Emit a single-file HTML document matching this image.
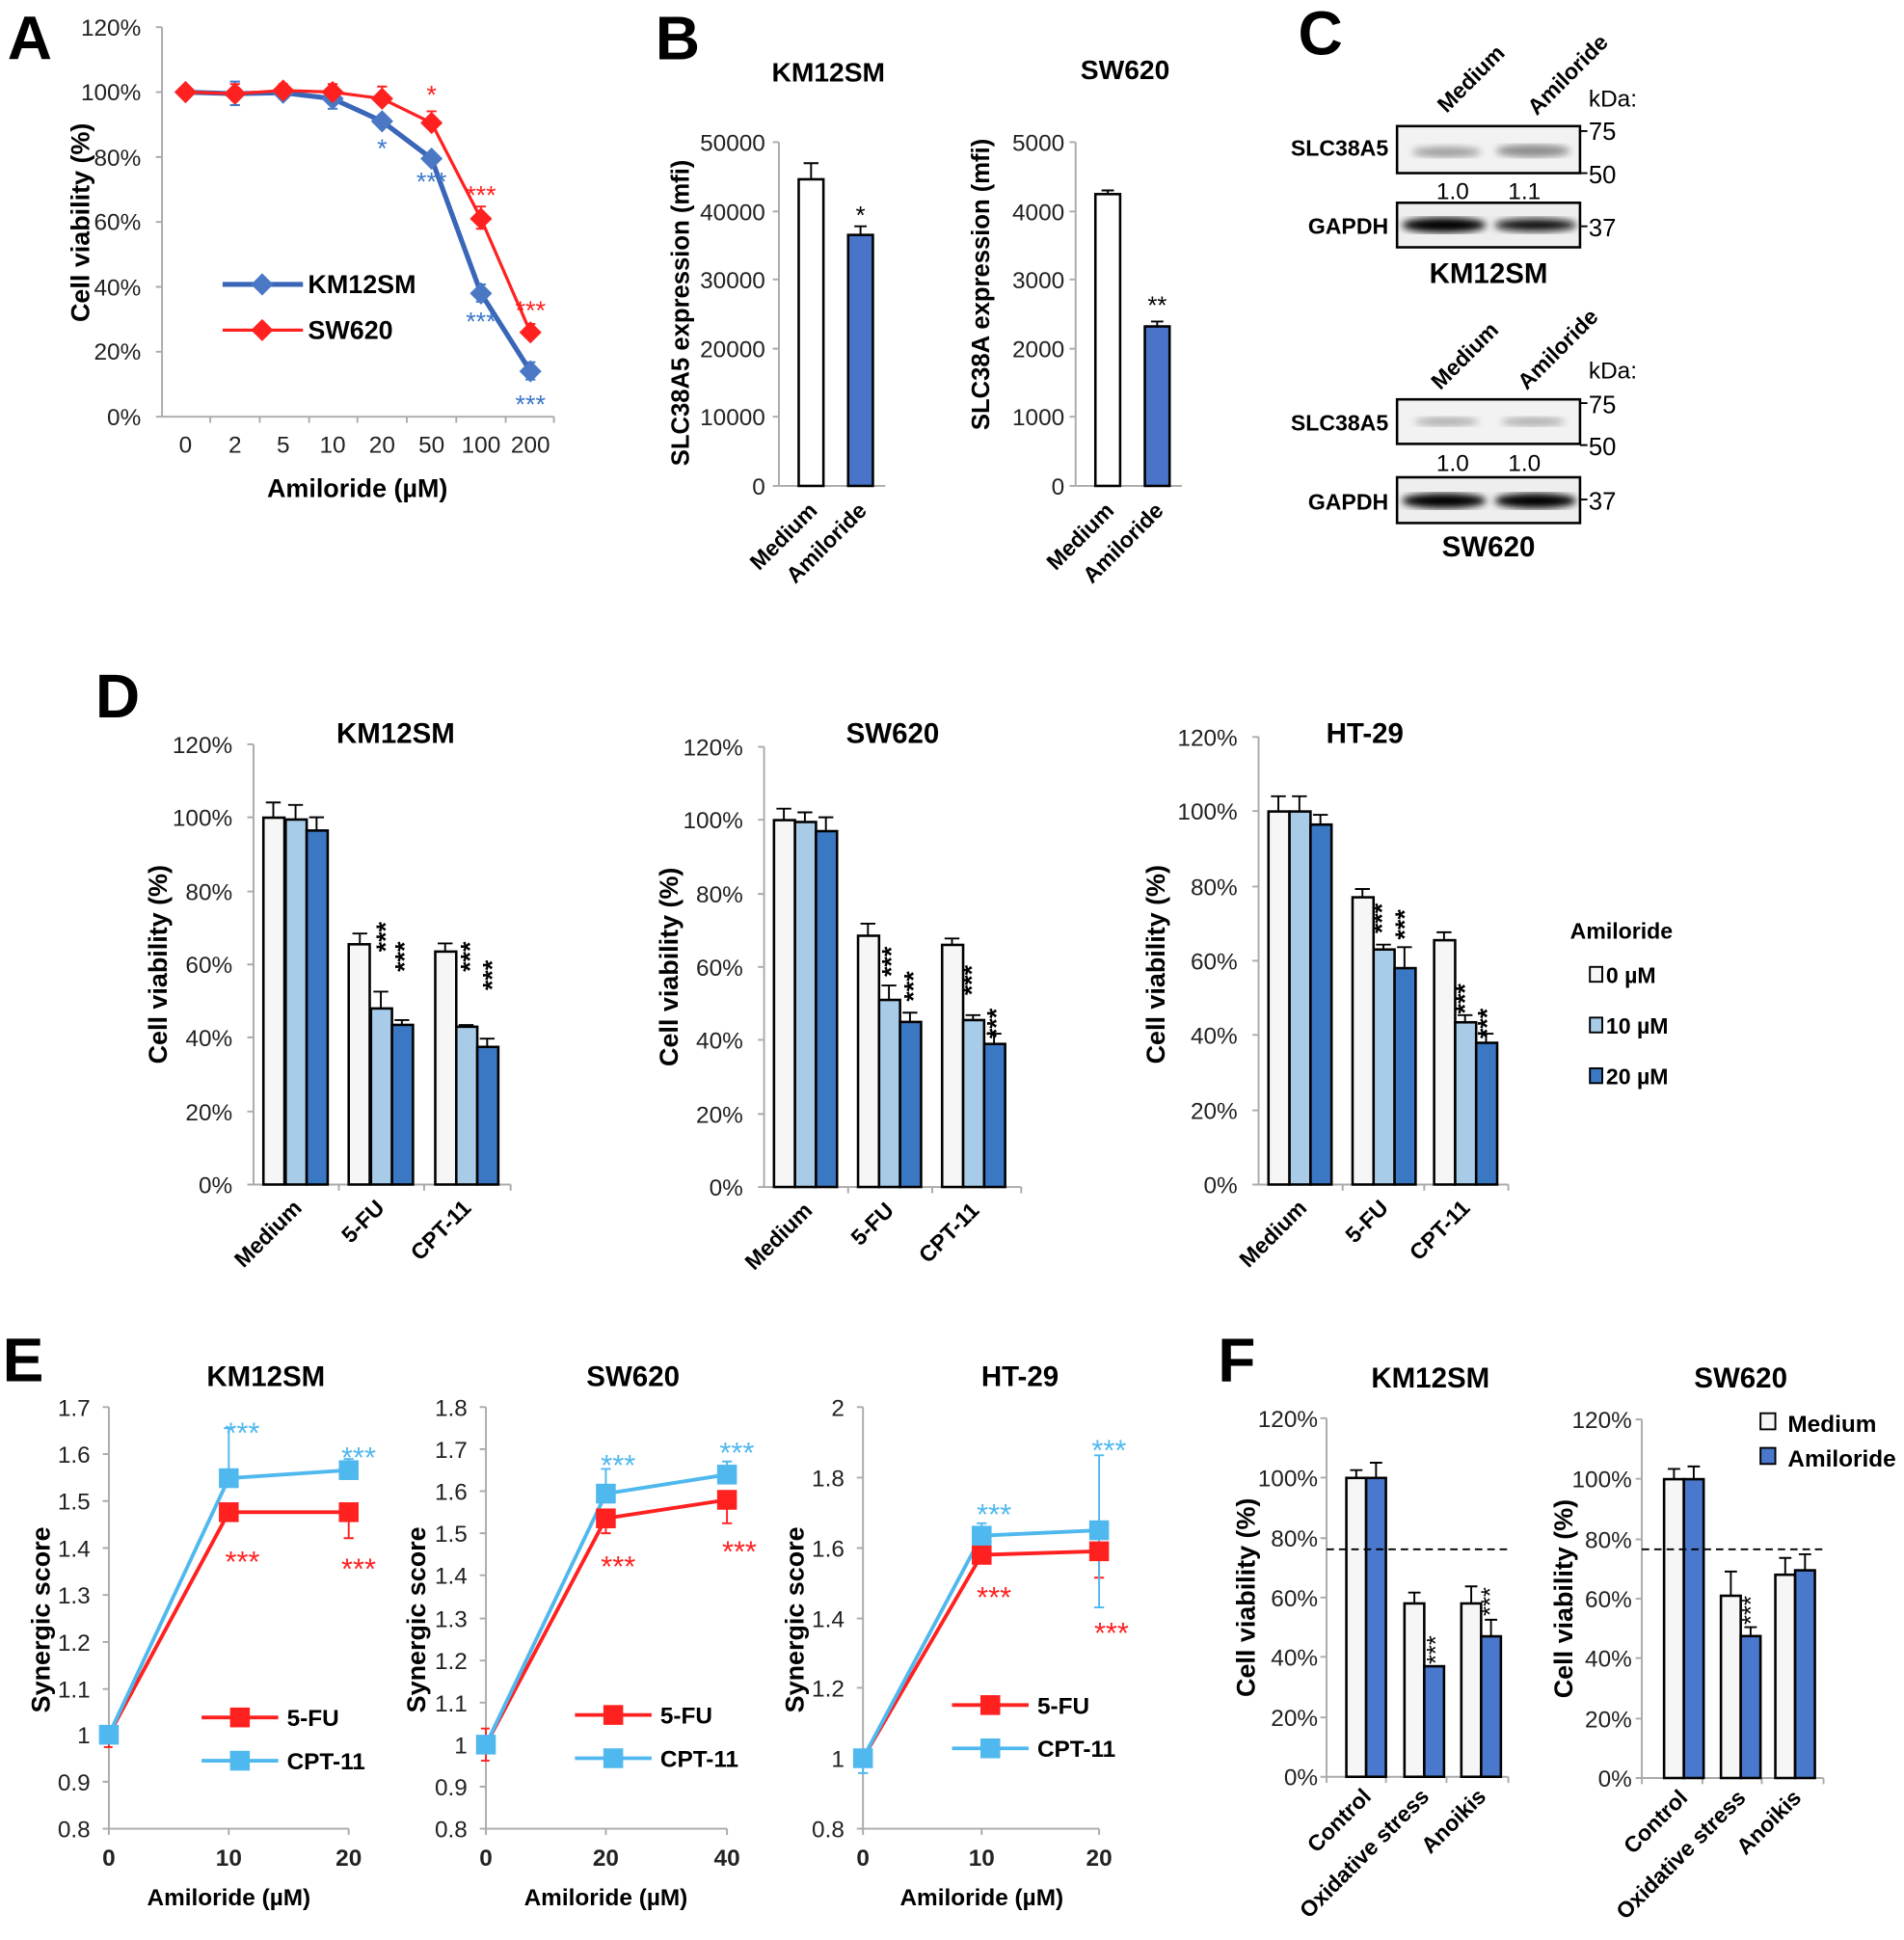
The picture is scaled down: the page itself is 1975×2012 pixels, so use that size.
<!DOCTYPE html>
<html><head><meta charset="utf-8"><style>
html,body{margin:0;padding:0;background:#fff}
svg{display:block}
text{font-family:"Liberation Sans",Arial,sans-serif}
.t{font-size:19px;fill:#222}
.b{font-weight:bold}
.ax{stroke:#aaa;stroke-width:1.5;fill:none}
.bar{stroke:#000;stroke-width:2}
.eb{stroke:#000;stroke-width:1.5;fill:none}
</style></head><body>
<svg width="1975" height="2012" viewBox="0 0 1540 1569" xmlns="http://www.w3.org/2000/svg">
<defs>
<path id="dm" d="M0,-9 L9,0 L0,9 L-9,0Z"/>
<rect id="sq" x="-8" y="-8" width="16" height="16"/>
<filter id="bl"><feGaussianBlur stdDeviation="3"/></filter>
</defs>
<g font-weight="bold" font-size="50" fill="#000">
<text x="6" y="48">A</text><text x="530" y="48">B</text><text x="1050" y="44">C</text>
<text x="77" y="580">D</text><text x="2" y="1117">E</text><text x="985" y="1117">F</text>
</g>

<!-- ===== Panel A ===== -->
<g>
<path class="ax" d="M131,22V337H448 M126,22h5 M126,74.5h5 M126,127h5 M126,179.5h5 M126,232h5 M126,284.5h5 M126,337h5 M170,337v5 M210,337v5 M250,337v5 M289,337v5 M329,337v5 M369,337v5 M409,337v5 M448,337v5"/>
<g class="t" text-anchor="end"><text x="114" y="29">120%</text><text x="114" y="81">100%</text><text x="114" y="134">80%</text><text x="114" y="186">60%</text><text x="114" y="239">40%</text><text x="114" y="291">20%</text><text x="114" y="344">0%</text></g>
<g class="t" text-anchor="middle"><text x="150" y="366">0</text><text x="190" y="366">2</text><text x="229" y="366">5</text><text x="269" y="366">10</text><text x="309" y="366">20</text><text x="349" y="366">50</text><text x="389" y="366">100</text><text x="429" y="366">200</text></g>
<text x="289" y="402" text-anchor="middle" font-size="21" class="b">Amiloride (µM)</text>
<text transform="translate(72,180) rotate(-90)" text-anchor="middle" font-size="21" class="b">Cell viability (%)</text>
<g stroke="#3c78c8" stroke-width="1.5"><path d="M190,66v19M186,66h8M186,85h8 M269,72v16M265,88h8 M309,91v14 M349,122v13 M389,230v14M385,230h8M385,244h8 M429,293v14M425,293h8M425,307h8"/></g>
<polyline fill="none" stroke="#3a66b8" stroke-width="4" points="150,74.5 190,75.8 229,75 269,79.8 309,98.1 349,128.3 389,237.3 429,300.3"/>
<g fill="#4a78c4"><use href="#dm" x="150" y="74.5"/><use href="#dm" x="190" y="75.8"/><use href="#dm" x="229" y="75"/><use href="#dm" x="269" y="79.8"/><use href="#dm" x="309" y="98.1"/><use href="#dm" x="349" y="128.3"/><use href="#dm" x="389" y="237.3"/><use href="#dm" x="429" y="300.3"/></g>
<g stroke="#ff2020" stroke-width="1.5"><path d="M190,68v16M186,68h8 M229,68v11M225,68h8 M269,68v13M265,68h8 M309,70v18M305,70h8 M349,90v18M345,90h8 M389,167v18M385,167h8M385,185h8 M429,262v14M425,262h8"/></g>
<polyline fill="none" stroke="#ff2020" stroke-width="2.5" points="150,74.5 190,75.8 229,73.2 269,74.5 309,79.8 349,99.4 389,176.9 429,268.8"/>
<g fill="#ff2020"><use href="#dm" x="150" y="74.5"/><use href="#dm" x="190" y="75.8"/><use href="#dm" x="229" y="73.2"/><use href="#dm" x="269" y="74.5"/><use href="#dm" x="309" y="79.8"/><use href="#dm" x="349" y="99.4"/><use href="#dm" x="389" y="176.9"/><use href="#dm" x="429" y="268.8"/></g>
<g fill="#3c78c8" font-size="21" text-anchor="middle"><text x="309" y="127">*</text><text x="349" y="154">***</text><text x="389" y="267">***</text><text x="429" y="334">***</text></g>
<g fill="#ff2020" font-size="21" text-anchor="middle"><text x="349" y="84">*</text><text x="389" y="165">***</text><text x="429" y="258">***</text></g>
<path d="M180,230H245" stroke="#3a66b8" stroke-width="4"/><use href="#dm" x="212" y="230" fill="#4a78c4"/>
<path d="M180,267H245" stroke="#ff2020" stroke-width="2.5"/><use href="#dm" x="212" y="267" fill="#ff2020"/>
<text x="249" y="237" font-size="21" class="b">KM12SM</text><text x="249" y="274" font-size="21" class="b">SW620</text>
</g>

<!-- ===== Panel B ===== -->
<g>
<text x="670" y="66" text-anchor="middle" font-size="22" class="b">KM12SM</text>
<path class="ax" d="M630,115V393H716 M625,115h5M625,171h5M625,226h5M625,282h5M625,337h5M625,393h5"/>
<g class="t" text-anchor="end"><text x="619" y="122">50000</text><text x="619" y="178">40000</text><text x="619" y="233">30000</text><text x="619" y="289">20000</text><text x="619" y="344">10000</text><text x="619" y="400">0</text></g>
<path class="eb" d="M656,145V132M650,132h12 M696,190V183M691,183h10"/>
<rect class="bar" x="646" y="145" width="20" height="248" fill="#fff"/>
<rect class="bar" x="686" y="190" width="20" height="203" fill="#4a74c8"/>
<text x="696" y="181" text-anchor="middle" font-size="20">*</text>
<text transform="translate(557,253) rotate(-90)" text-anchor="middle" font-size="20" class="b">SLC38A5 expression (mfi)</text>
<text transform="translate(662,414) rotate(-45)" text-anchor="end" font-size="18" class="b">Medium</text>
<text transform="translate(702,414) rotate(-45)" text-anchor="end" font-size="18" class="b">Amiloride</text>

<text x="910" y="64" text-anchor="middle" font-size="22" class="b">SW620</text>
<path class="ax" d="M870,115V393H956 M865,115h5M865,171h5M865,226h5M865,282h5M865,337h5M865,393h5"/>
<g class="t" text-anchor="end"><text x="861" y="122">5000</text><text x="861" y="178">4000</text><text x="861" y="233">3000</text><text x="861" y="289">2000</text><text x="861" y="344">1000</text><text x="861" y="400">0</text></g>
<path class="eb" d="M896,157V154M891,154h10 M936,264V260M931,260h10"/>
<rect class="bar" x="886" y="157" width="20" height="236" fill="#fff"/>
<rect class="bar" x="926" y="264" width="20" height="129" fill="#4a74c8"/>
<text x="936" y="254" text-anchor="middle" font-size="20">**</text>
<text transform="translate(800,230) rotate(-90)" text-anchor="middle" font-size="20" class="b">SLC38A expression (mfi)</text>
<text transform="translate(902,414) rotate(-45)" text-anchor="end" font-size="18" class="b">Medium</text>
<text transform="translate(942,414) rotate(-45)" text-anchor="end" font-size="18" class="b">Amiloride</text>
</g>

<!-- ===== Panel C ===== -->
<g>
<text transform="translate(1170,92) rotate(-45)" font-size="18" class="b">Medium</text>
<text transform="translate(1243,94) rotate(-45)" font-size="18" class="b">Amiloride</text>
<text x="1285" y="86" font-size="19">kDa:</text>
<rect x="1130" y="102" width="148" height="38" fill="#f2f2f2" stroke="#000" stroke-width="2"/>
<g filter="url(#bl)"><ellipse cx="1170" cy="123" rx="28" ry="4" fill="#999"/><ellipse cx="1240" cy="122" rx="30" ry="5" fill="#8a8a8a"/></g>
<rect x="1130" y="164" width="148" height="36" fill="#eee" stroke="#000" stroke-width="2"/>
<g filter="url(#bl)"><ellipse cx="1168" cy="182" rx="34" ry="6" fill="#000"/><ellipse cx="1242" cy="182" rx="33" ry="5" fill="#111"/></g>
<path d="M1278,106h6M1278,140h6M1278,183h6" stroke="#000" stroke-width="1.5"/>
<g font-size="20"><text x="1285" y="113">75</text><text x="1285" y="148">50</text><text x="1285" y="191">37</text></g>
<g font-size="19" text-anchor="middle"><text x="1175" y="161">1.0</text><text x="1233" y="161">1.1</text></g>
<g font-size="18" class="b" text-anchor="end"><text x="1123" y="126">SLC38A5</text><text x="1123" y="189">GAPDH</text></g>
<text x="1204" y="229" text-anchor="middle" font-size="23" class="b">KM12SM</text>

<text transform="translate(1165,316) rotate(-45)" font-size="18" class="b">Medium</text>
<text transform="translate(1235,316) rotate(-45)" font-size="18" class="b">Amiloride</text>
<text x="1285" y="306" font-size="19">kDa:</text>
<rect x="1130" y="323" width="148" height="36" fill="#f2f2f2" stroke="#000" stroke-width="2"/>
<g filter="url(#bl)"><ellipse cx="1170" cy="341" rx="26" ry="3.5" fill="#aaa"/><ellipse cx="1240" cy="341" rx="26" ry="3.5" fill="#aaa"/></g>
<rect x="1130" y="386" width="148" height="37" fill="#eee" stroke="#000" stroke-width="2"/>
<g filter="url(#bl)"><ellipse cx="1168" cy="405" rx="34" ry="6" fill="#000"/><ellipse cx="1242" cy="405" rx="33" ry="6" fill="#000"/></g>
<path d="M1278,326h6M1278,360h6M1278,404h6" stroke="#000" stroke-width="1.5"/>
<g font-size="20"><text x="1285" y="334">75</text><text x="1285" y="368">50</text><text x="1285" y="412">37</text></g>
<g font-size="19" text-anchor="middle"><text x="1175" y="381">1.0</text><text x="1233" y="381">1.0</text></g>
<g font-size="18" class="b" text-anchor="end"><text x="1123" y="348">SLC38A5</text><text x="1123" y="412">GAPDH</text></g>
<text x="1204" y="450" text-anchor="middle" font-size="23" class="b">SW620</text>
</g>

<!-- ===== Panel D ===== -->
<g>
<text x="320" y="601" text-anchor="middle" font-size="23" class="b">KM12SM</text>
<path class="ax" d="M205,602V958H413 M200,602h5M200,661h5M200,721h5M200,780h5M200,839h5M200,899h5M200,958h5 M274,958v5M343,958v5M413,958v5"/>
<g class="t" text-anchor="end"><text x="188" y="609">120%</text><text x="188" y="668">100%</text><text x="188" y="728">80%</text><text x="188" y="787">60%</text><text x="188" y="846">40%</text><text x="188" y="906">20%</text><text x="188" y="965">0%</text></g>
<path class="eb" d="M221,661V649M215,649h12 M239,663V651M233,651h12 M256,672V661M250,661h12 M291,764V755M285,755h12 M308,816V802M302,802h12 M325,829V825M319,825h12 M360,770V763M354,763h12 M377,830V829M371,829h12 M394,847V840M388,840h12"/>
<g class="bar"><rect x="213" y="661.3" width="17" height="296.7" fill="#f6f6f6"/><rect x="231" y="662.8" width="17" height="295.2" fill="#a8cce8"/><rect x="248" y="671.7" width="17" height="286.3" fill="#3b78c4"/>
<rect x="282" y="763.7" width="17" height="194.3" fill="#f6f6f6"/><rect x="300" y="815.6" width="17" height="142.4" fill="#a8cce8"/><rect x="317" y="828.9" width="17" height="129.1" fill="#3b78c4"/>
<rect x="352" y="769.6" width="17" height="188.4" fill="#f6f6f6"/><rect x="369" y="830.4" width="17" height="127.6" fill="#a8cce8"/><rect x="386" y="846.7" width="17" height="111.3" fill="#3b78c4"/></g>
<g font-size="21" class="b"><text transform="translate(319,770) rotate(-90)">***</text><text transform="translate(334,786) rotate(-90)">***</text><text transform="translate(387,786) rotate(-90)">***</text><text transform="translate(405,801) rotate(-90)">***</text></g>
<text transform="translate(135,780) rotate(-90)" text-anchor="middle" font-size="21" class="b">Cell viability (%)</text>
<g font-size="18" class="b" text-anchor="end"><text transform="translate(245,978) rotate(-45)">Medium</text><text transform="translate(312,978) rotate(-45)">5-FU</text><text transform="translate(382,978) rotate(-45)">CPT-11</text></g>
</g>
<g>
<text x="722" y="601" text-anchor="middle" font-size="23" class="b">SW620</text>
<path class="ax" d="M618,604V960H826 M613,604h5M613,663h5M613,723h5M613,782h5M613,841h5M613,901h5M613,960h5 M686,960v5M754,960v5M826,960v5"/>
<g class="t" text-anchor="end"><text x="601" y="611">120%</text><text x="601" y="670">100%</text><text x="601" y="730">80%</text><text x="601" y="789">60%</text><text x="601" y="848">40%</text><text x="601" y="908">20%</text><text x="601" y="967">0%</text></g>
<path class="eb" d="M634,663V654M628,654h12 M651,665V657M645,657h12 M668,672V661M662,661h12 M702,757V747M696,747h12 M719,809V797M713,797h12 M736,827V819M730,819h12 M770,764V759M764,759h12 M787,825V821M781,821h12 M804,844V836M798,836h12"/>
<g class="bar"><rect x="626" y="663.3" width="17" height="296.7" fill="#f6f6f6"/><rect x="643" y="664.8" width="17" height="295.2" fill="#a8cce8"/><rect x="660" y="672.2" width="17" height="287.8" fill="#3b78c4"/>
<rect x="694" y="756.8" width="17" height="203.2" fill="#f6f6f6"/><rect x="711" y="808.7" width="17" height="151.3" fill="#a8cce8"/><rect x="728" y="826.5" width="17" height="133.5" fill="#3b78c4"/>
<rect x="762" y="764.2" width="17" height="195.8" fill="#f6f6f6"/><rect x="779" y="825" width="17" height="135" fill="#a8cce8"/><rect x="796" y="844.3" width="17" height="115.7" fill="#3b78c4"/></g>
<g font-size="21" class="b"><text transform="translate(728,790) rotate(-90)">***</text><text transform="translate(746,810) rotate(-90)">***</text><text transform="translate(793,805) rotate(-90)">***</text><text transform="translate(813,840) rotate(-90)">***</text></g>
<text transform="translate(548,782) rotate(-90)" text-anchor="middle" font-size="21" class="b">Cell viability (%)</text>
<g font-size="18" class="b" text-anchor="end"><text transform="translate(658,980) rotate(-45)">Medium</text><text transform="translate(724,980) rotate(-45)">5-FU</text><text transform="translate(793,980) rotate(-45)">CPT-11</text></g>
</g>
<g>
<text x="1104" y="601" text-anchor="middle" font-size="23" class="b">HT-29</text>
<path class="ax" d="M1018,596V958H1220 M1013,596h5M1013,656h5M1013,717h5M1013,777h5M1013,837h5M1013,898h5M1013,958h5 M1086,958v5M1152,958v5M1220,958v5"/>
<g class="t" text-anchor="end"><text x="1001" y="603">120%</text><text x="1001" y="663">100%</text><text x="1001" y="724">80%</text><text x="1001" y="784">60%</text><text x="1001" y="844">40%</text><text x="1001" y="905">20%</text><text x="1001" y="965">0%</text></g>
<path class="eb" d="M1034,656V644M1028,644h12 M1051,656V644M1045,644h12 M1068,667V659M1062,659h12 M1102,726V719M1096,719h12 M1119,768V764M1113,764h12 M1136,783V766M1130,766h12 M1168,760V754M1162,754h12 M1185,827V821M1179,821h12 M1202,843V836M1196,836h12"/>
<g class="bar"><rect x="1026" y="656.3" width="17" height="301.7" fill="#f6f6f6"/><rect x="1043" y="656.3" width="17" height="301.7" fill="#a8cce8"/><rect x="1060" y="666.9" width="17" height="291.1" fill="#3b78c4"/>
<rect x="1094" y="725.7" width="17" height="232.3" fill="#f6f6f6"/><rect x="1111" y="767.9" width="17" height="190.1" fill="#a8cce8"/><rect x="1128" y="783" width="17" height="175" fill="#3b78c4"/>
<rect x="1160" y="760.4" width="17" height="197.6" fill="#f6f6f6"/><rect x="1177" y="826.8" width="17" height="131.2" fill="#a8cce8"/><rect x="1194" y="843.4" width="17" height="114.6" fill="#3b78c4"/></g>
<g font-size="21" class="b"><text transform="translate(1125,755) rotate(-90)">***</text><text transform="translate(1143,760) rotate(-90)">***</text><text transform="translate(1192,820) rotate(-90)">***</text><text transform="translate(1210,840) rotate(-90)">***</text></g>
<text transform="translate(942,780) rotate(-90)" text-anchor="middle" font-size="21" class="b">Cell viability (%)</text>
<g font-size="18" class="b" text-anchor="end"><text transform="translate(1058,978) rotate(-45)">Medium</text><text transform="translate(1124,978) rotate(-45)">5-FU</text><text transform="translate(1190,978) rotate(-45)">CPT-11</text></g>
</g>
<text x="1270" y="759" font-size="18" class="b">Amiloride</text>
<rect x="1286" y="782" width="10" height="12" fill="#f6f6f6" stroke="#000" stroke-width="1.5"/><text x="1299" y="795" font-size="18" class="b">0 µM</text>
<rect x="1286" y="823" width="10" height="12" fill="#a8cce8" stroke="#000" stroke-width="1.5"/><text x="1299" y="836" font-size="18" class="b">10 µM</text>
<rect x="1286" y="864" width="10" height="12" fill="#3b78c4" stroke="#000" stroke-width="1.5"/><text x="1299" y="877" font-size="18" class="b">20 µM</text>

<!-- ===== Panel E ===== -->
<g>
<text x="215" y="1121" text-anchor="middle" font-size="23" class="b">KM12SM</text>
<path class="ax" d="M88,1138V1479H282 M83,1138h5M83,1176h5M83,1214h5M83,1252h5M83,1290h5M83,1328h5M83,1366h5M83,1403h5M83,1441h5M83,1479h5 M88,1479v5M185,1479v5M282,1479v5"/>
<g class="t" text-anchor="end"><text x="73" y="1145">1.7</text><text x="73" y="1183">1.6</text><text x="73" y="1221">1.5</text><text x="73" y="1259">1.4</text><text x="73" y="1297">1.3</text><text x="73" y="1335">1.2</text><text x="73" y="1373">1.1</text><text x="73" y="1410">1</text><text x="73" y="1448">0.9</text><text x="73" y="1486">0.8</text></g>
<g class="t b" text-anchor="middle"><text x="88" y="1509">0</text><text x="185" y="1509">10</text><text x="282" y="1509">20</text></g>
<text x="185" y="1541" text-anchor="middle" font-size="19" class="b">Amiloride (µM)</text>
<text transform="translate(40,1310) rotate(-90)" text-anchor="middle" font-size="21" class="b">Synergic score</text>
<path d="M88,1403V1413M84,1413h7 M282,1223V1244M278,1244h8" stroke="#ff2020" stroke-width="1.5"/>
<path d="M185,1196V1155M181,1155h8 M282,1189V1180M278,1180h8" stroke="#4fb8ee" stroke-width="1.5"/>
<polyline fill="none" stroke="#ff2020" stroke-width="3" points="88,1403 185,1223 282,1223"/>
<polyline fill="none" stroke="#4fb8ee" stroke-width="3" points="88,1403 185,1195.5 282,1189"/>
<g fill="#ff2020"><use href="#sq" x="185" y="1223"/><use href="#sq" x="282" y="1223"/></g>
<g fill="#4fb8ee"><use href="#sq" x="88" y="1403"/><use href="#sq" x="185" y="1195.5"/><use href="#sq" x="282" y="1189"/></g>
<g font-size="24" fill="#4fb8ee" text-anchor="middle"><text x="196" y="1167">***</text><text x="290" y="1187">***</text></g>
<g font-size="24" fill="#ff2020" text-anchor="middle"><text x="196" y="1271">***</text><text x="290" y="1277">***</text></g>
<path d="M163,1389H225" stroke="#ff2020" stroke-width="3"/><use href="#sq" x="194" y="1389" fill="#ff2020"/>
<path d="M163,1424H225" stroke="#4fb8ee" stroke-width="3"/><use href="#sq" x="194" y="1424" fill="#4fb8ee"/>
<text x="232" y="1396" font-size="19" class="b">5-FU</text><text x="232" y="1431" font-size="19" class="b">CPT-11</text>
</g>
<g>
<text x="512" y="1121" text-anchor="middle" font-size="23" class="b">SW620</text>
<path class="ax" d="M393,1138V1479H588 M388,1138h5M388,1172h5M388,1206h5M388,1240h5M388,1274h5M388,1309h5M388,1343h5M388,1377h5M388,1411h5M388,1445h5M388,1479h5 M393,1479v5M490,1479v5M588,1479v5"/>
<g class="t" text-anchor="end"><text x="378" y="1145">1.8</text><text x="378" y="1179">1.7</text><text x="378" y="1213">1.6</text><text x="378" y="1247">1.5</text><text x="378" y="1281">1.4</text><text x="378" y="1316">1.3</text><text x="378" y="1350">1.2</text><text x="378" y="1384">1.1</text><text x="378" y="1418">1</text><text x="378" y="1452">0.9</text><text x="378" y="1486">0.8</text></g>
<g class="t b" text-anchor="middle"><text x="393" y="1509">0</text><text x="490" y="1509">20</text><text x="588" y="1509">40</text></g>
<text x="490" y="1541" text-anchor="middle" font-size="19" class="b">Amiloride (µM)</text>
<text transform="translate(344,1310) rotate(-90)" text-anchor="middle" font-size="21" class="b">Synergic score</text>
<path d="M393,1398V1424M389,1398h7M389,1424h7 M490,1228V1240M486,1240h8 M588,1213V1232M584,1232h8" stroke="#ff2020" stroke-width="1.5"/>
<path d="M490,1208V1188M486,1188h8 M588,1193V1182M584,1182h8" stroke="#4fb8ee" stroke-width="1.5"/>
<polyline fill="none" stroke="#ff2020" stroke-width="3" points="393,1411 490,1228 588,1213"/>
<polyline fill="none" stroke="#4fb8ee" stroke-width="3" points="393,1411 490,1208 588,1192.6"/>
<g fill="#ff2020"><use href="#sq" x="490" y="1228"/><use href="#sq" x="588" y="1213"/></g>
<g fill="#4fb8ee"><use href="#sq" x="393" y="1411"/><use href="#sq" x="490" y="1208"/><use href="#sq" x="588" y="1192.6"/></g>
<g font-size="24" fill="#4fb8ee" text-anchor="middle"><text x="500" y="1193">***</text><text x="596" y="1183">***</text></g>
<g font-size="24" fill="#ff2020" text-anchor="middle"><text x="500" y="1275">***</text><text x="598" y="1263">***</text></g>
<path d="M465,1387H527" stroke="#ff2020" stroke-width="3"/><use href="#sq" x="496" y="1387" fill="#ff2020"/>
<path d="M465,1422H527" stroke="#4fb8ee" stroke-width="3"/><use href="#sq" x="496" y="1422" fill="#4fb8ee"/>
<text x="534" y="1394" font-size="19" class="b">5-FU</text><text x="534" y="1429" font-size="19" class="b">CPT-11</text>
</g>
<g>
<text x="825" y="1121" text-anchor="middle" font-size="23" class="b">HT-29</text>
<path class="ax" d="M698,1138V1479H889 M693,1138h5M693,1195h5M693,1252h5M693,1309h5M693,1365h5M693,1422h5M693,1479h5 M698,1479v5M794,1479v5M889,1479v5"/>
<g class="t" text-anchor="end"><text x="683" y="1145">2</text><text x="683" y="1202">1.8</text><text x="683" y="1259">1.6</text><text x="683" y="1316">1.4</text><text x="683" y="1372">1.2</text><text x="683" y="1429">1</text><text x="683" y="1486">0.8</text></g>
<g class="t b" text-anchor="middle"><text x="698" y="1509">0</text><text x="794" y="1509">10</text><text x="889" y="1509">20</text></g>
<text x="794" y="1541" text-anchor="middle" font-size="19" class="b">Amiloride (µM)</text>
<text transform="translate(650,1310) rotate(-90)" text-anchor="middle" font-size="21" class="b">Synergic score</text>
<path d="M889,1255V1276M885,1276h8" stroke="#ff2020" stroke-width="1.5"/>
<path d="M698,1422V1434M694,1434h8 M794,1242V1232M790,1232h8 M889,1238V1177M885,1177h8M889,1238V1300M885,1300h8" stroke="#4fb8ee" stroke-width="1.5"/>
<polyline fill="none" stroke="#ff2020" stroke-width="3" points="698,1422 794,1257.5 889,1254.6"/>
<polyline fill="none" stroke="#4fb8ee" stroke-width="3" points="698,1422 794,1242 889,1237.6"/>
<g fill="#ff2020"><use href="#sq" x="794" y="1257.5"/><use href="#sq" x="889" y="1254.6"/></g>
<g fill="#4fb8ee"><use href="#sq" x="698" y="1422"/><use href="#sq" x="794" y="1242"/><use href="#sq" x="889" y="1237.6"/></g>
<g font-size="24" fill="#4fb8ee" text-anchor="middle"><text x="804" y="1233">***</text><text x="897" y="1181">***</text></g>
<g font-size="24" fill="#ff2020" text-anchor="middle"><text x="804" y="1300">***</text><text x="899" y="1329">***</text></g>
<path d="M770,1379H832" stroke="#ff2020" stroke-width="3"/><use href="#sq" x="801" y="1379" fill="#ff2020"/>
<path d="M770,1414H832" stroke="#4fb8ee" stroke-width="3"/><use href="#sq" x="801" y="1414" fill="#4fb8ee"/>
<text x="839" y="1386" font-size="19" class="b">5-FU</text><text x="839" y="1421" font-size="19" class="b">CPT-11</text>
</g>

<!-- ===== Panel F ===== -->
<g>
<text x="1157" y="1122" text-anchor="middle" font-size="23" class="b">KM12SM</text>
<path class="ax" d="M1073,1147V1437H1220 M1068,1147h5M1068,1195h5M1068,1244h5M1068,1292h5M1068,1340h5M1068,1389h5M1068,1437h5 M1073,1437v5M1121,1437v5M1170,1437v5M1220,1437v5"/>
<g class="t" text-anchor="end"><text x="1066" y="1154">120%</text><text x="1066" y="1202">100%</text><text x="1066" y="1251">80%</text><text x="1066" y="1299">60%</text><text x="1066" y="1347">40%</text><text x="1066" y="1396">20%</text><text x="1066" y="1444">0%</text></g>
<path class="eb" d="M1097,1195V1189M1092,1189h10 M1113,1195V1183M1108,1183h10 M1144,1297V1288M1139,1288h10 M1190,1297V1283M1185,1283h10 M1206,1323V1310M1201,1310h10"/>
<g class="bar"><rect x="1089" y="1195.3" width="16" height="241.7" fill="#f6f6f6"/><rect x="1105" y="1195.3" width="16" height="241.7" fill="#4a78cc"/>
<rect x="1136" y="1296.8" width="16" height="140.2" fill="#f6f6f6"/><rect x="1152" y="1347.6" width="16" height="89.4" fill="#4a78cc"/>
<rect x="1182" y="1296.8" width="16" height="140.2" fill="#f6f6f6"/><rect x="1198" y="1323.4" width="16" height="113.6" fill="#4a78cc"/></g>
<path d="M1073,1253H1220" stroke="#000" stroke-width="1.5" stroke-dasharray="6,4"/>
<g font-size="20"><text transform="translate(1168,1346) rotate(-90)">***</text><text transform="translate(1212,1307) rotate(-90)">***</text></g>
<text transform="translate(1015,1292) rotate(-90)" text-anchor="middle" font-size="21" class="b">Cell viability (%)</text>
<g font-size="18" class="b" text-anchor="end"><text transform="translate(1110,1454) rotate(-45)">Control</text><text transform="translate(1157,1454) rotate(-45)">Oxidative stress</text><text transform="translate(1203,1454) rotate(-45)">Anoikis</text></g>
</g>
<g>
<text x="1408" y="1122" text-anchor="middle" font-size="23" class="b">SW620</text>
<path class="ax" d="M1328,1148V1438H1475 M1323,1148h5M1323,1196h5M1323,1245h5M1323,1293h5M1323,1341h5M1323,1390h5M1323,1438h5 M1328,1438v5M1377,1438v5M1425,1438v5M1475,1438v5"/>
<g class="t" text-anchor="end"><text x="1320" y="1155">120%</text><text x="1320" y="1203">100%</text><text x="1320" y="1252">80%</text><text x="1320" y="1300">60%</text><text x="1320" y="1348">40%</text><text x="1320" y="1397">20%</text><text x="1320" y="1445">0%</text></g>
<path class="eb" d="M1354,1196V1188M1349,1188h10 M1370,1196V1186M1365,1186h10 M1400,1291V1271M1395,1271h10 M1416,1323V1316M1411,1316h10 M1444,1274V1260M1439,1260h10 M1460,1270V1257M1455,1257h10"/>
<g class="bar"><rect x="1346" y="1196.3" width="16" height="241.7" fill="#f6f6f6"/><rect x="1362" y="1196.3" width="16" height="241.7" fill="#4a78cc"/>
<rect x="1392" y="1290.6" width="16" height="147.4" fill="#f6f6f6"/><rect x="1408" y="1323.2" width="16" height="114.8" fill="#4a78cc"/>
<rect x="1436" y="1273.6" width="16" height="164.4" fill="#f6f6f6"/><rect x="1452" y="1270" width="16" height="168" fill="#4a78cc"/></g>
<path d="M1328,1253H1475" stroke="#000" stroke-width="1.5" stroke-dasharray="6,4"/>
<g font-size="20"><text transform="translate(1423,1314) rotate(-90)">***</text></g>
<text transform="translate(1272,1293) rotate(-90)" text-anchor="middle" font-size="21" class="b">Cell viability (%)</text>
<g font-size="18" class="b" text-anchor="end"><text transform="translate(1366,1455) rotate(-45)">Control</text><text transform="translate(1413,1455) rotate(-45)">Oxidative stress</text><text transform="translate(1458,1455) rotate(-45)">Anoikis</text></g>
<rect x="1424" y="1143" width="12" height="13" fill="#f6f6f6" stroke="#000" stroke-width="1.5"/><text x="1446" y="1158" font-size="19" class="b">Medium</text>
<rect x="1424" y="1171" width="12" height="13" fill="#4a78cc" stroke="#000" stroke-width="1.5"/><text x="1446" y="1186" font-size="19" class="b">Amiloride</text>
</g>
</svg>
</body></html>
